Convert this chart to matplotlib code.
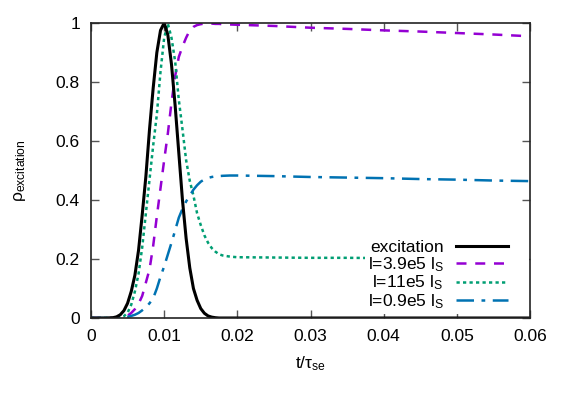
#!/usr/bin/env python3

import matplotlib
matplotlib.use('Agg')
from matplotlib import pyplot as plt
from matplotlib.patches import Rectangle
from matplotlib.ticker import FuncFormatter, MultipleLocator

# time axis, in units of tau_se
t = [0, 0.002, 0.003, 0.0035, 0.004, 0.0045, 0.005, 0.0055, 0.006, 0.0065,
     0.007, 0.0075, 0.008, 0.0085, 0.009, 0.0095, 0.01, 0.0105, 0.011, 0.0115,
     0.012, 0.0125, 0.013, 0.0135, 0.014, 0.0145, 0.015, 0.0155, 0.016, 0.0165,
     0.017, 0.0175, 0.018, 0.019, 0.02, 0.025, 0.03, 0.035, 0.04, 0.045,
     0.05, 0.055, 0.06]

excitation = [0, 0, 0.001, 0.004, 0.011, 0.025, 0.05, 0.09, 0.145, 0.23,
              0.35, 0.48, 0.64, 0.78, 0.9, 0.975, 1.0, 0.96, 0.86, 0.72,
              0.56, 0.4, 0.27, 0.17, 0.1, 0.06, 0.032, 0.016, 0.007, 0.003,
              0.001, 0, 0, 0, 0, 0, 0, 0, 0, 0,
              0, 0, 0]

rho_39e5 = [0, 0, 0, 0, 0.001, 0.003, 0.008, 0.017, 0.03, 0.048,
            0.075, 0.12, 0.165, 0.245, 0.345, 0.44, 0.535, 0.625, 0.73, 0.82,
            0.885, 0.92, 0.95, 0.975, 0.987, 0.993, 0.996, 0.998, 0.998, 0.998,
            0.997, 0.997, 0.996, 0.995, 0.994, 0.99, 0.984, 0.98, 0.975, 0.971,
            0.966, 0.961, 0.955]

rho_11e5 = [0, 0, 0, 0.001, 0.002, 0.006, 0.018, 0.045, 0.09, 0.15,
            0.24, 0.355, 0.47, 0.585, 0.69, 0.835, 0.95, 0.998, 0.95, 0.87,
            0.74, 0.64, 0.535, 0.465, 0.415, 0.355, 0.315, 0.28, 0.255, 0.237,
            0.225, 0.216, 0.212, 0.208, 0.206, 0.205, 0.204, 0.204, 0.203, 0.202,
            0.202, 0.201, 0.2]

rho_09e5 = [0, 0, 0, 0, 0.001, 0.002, 0.004, 0.007, 0.011, 0.017,
            0.026, 0.036, 0.05, 0.067, 0.1, 0.14, 0.175, 0.215, 0.255, 0.297,
            0.34, 0.37, 0.395, 0.415, 0.435, 0.45, 0.462, 0.47, 0.475, 0.478,
            0.48, 0.481, 0.482, 0.483, 0.483, 0.481, 0.478, 0.476, 0.474, 0.471,
            0.469, 0.466, 0.464]

FS = 12.5
plt.rcParams['font.family'] = ['Liberation Sans', 'DejaVu Sans']
plt.rcParams['mathtext.fontset'] = 'custom'
plt.rcParams['mathtext.rm'] = 'Liberation Sans'
plt.rcParams['mathtext.it'] = 'Liberation Sans:italic'
plt.rc('font', size=FS)

fig = plt.figure(figsize=(5.62, 3.95), dpi=100)
ax = fig.add_axes([91 / 562, 1 - 318 / 395, 439 / 562, 295 / 395])

ax.plot(t, excitation, color='black', lw=2.2, label='excitation', zorder=5)
ax.plot(t, rho_39e5, color='#9400D3', lw=1.8, dashes=(4, 3.5),
        label=r'l=3.9e5 l$_\mathrm{S}$')
ax.plot(t, rho_11e5, color='#009E73', lw=1.8, dashes=(1.3, 1.3),
        label=r'l=11e5 l$_\mathrm{S}$')
ax.plot(t, rho_09e5, color='#0072B2', lw=1.8, dashes=(7, 3, 1.5, 3),
        label=r'l=0.9e5 l$_\mathrm{S}$')

ax.set_xlim(0, 0.06)
ax.set_ylim(0, 1)
ax.xaxis.set_major_locator(MultipleLocator(0.01))
ax.yaxis.set_major_locator(MultipleLocator(0.2))
fmt = FuncFormatter(lambda v, p: '%g' % round(v, 6))
ax.xaxis.set_major_formatter(fmt)
ax.yaxis.set_major_formatter(fmt)
ax.tick_params(direction='in', length=6, width=1, top=True, right=True,
               labelsize=FS, pad=8, color='#555555')
for s in ax.spines.values():
    s.set_color('#222222')
    s.set_linewidth(1.2)
    s.set_zorder(6)

ax.set_xlabel(r'$\mathrm{t/\tau_{se}}$', fontsize=FS, labelpad=7)
ax.set_ylabel(r'$\mathrm{\rho_{excitation}}$', fontsize=FS, labelpad=20)

# the key box is opaque out to the right border, like gnuplot's
ax.add_patch(Rectangle((0.9, 0.1), 0.097, 0.2, transform=ax.transAxes,
                       facecolor='white', edgecolor='none', zorder=4))
leg = ax.legend(loc='lower right', bbox_to_anchor=(0.975, -0.015), markerfirst=False,
                frameon=True, fancybox=False, framealpha=1, edgecolor='none',
                handlelength=3.0, handletextpad=0.7, labelspacing=0.0,
                borderpad=0.15, fontsize=FS)
leg.set_zorder(4.5)
for col in leg._legend_handle_box.get_children():
    col.align = 'right'

plt.savefig('out.png', dpi=100)
